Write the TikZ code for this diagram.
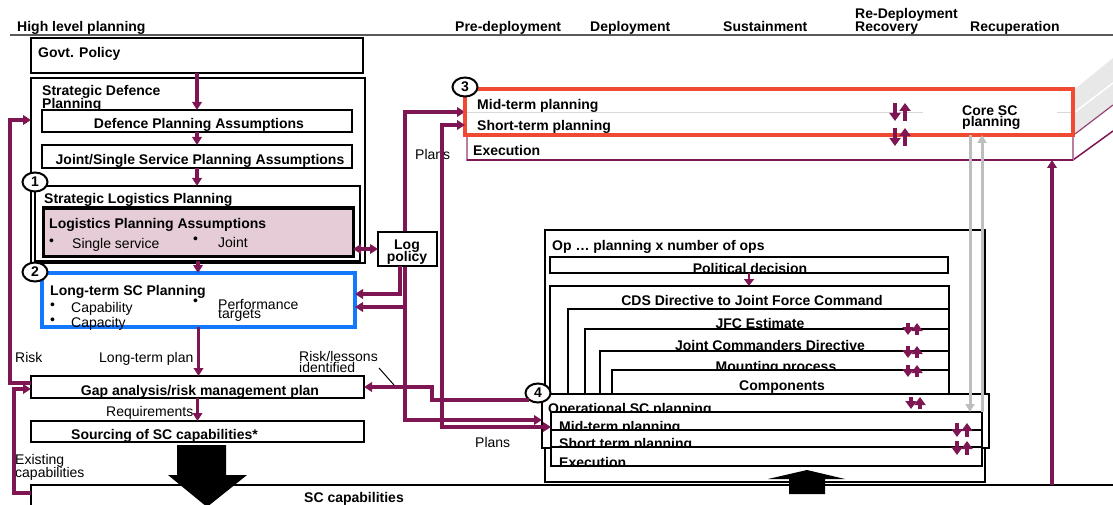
\documentclass[tikz,border=0pt]{standalone}
\usepackage{fontspec}
\setmainfont{Liberation Sans}
\usetikzlibrary{arrows.meta,fit,shapes.geometric,calc}
\pgfdeclarelayer{back}
\pgfdeclarelayer{bg}
\pgfsetlayers{back,bg,main}
\definecolor{pur}{RGB}{125,22,82}
\definecolor{lpafill}{RGB}{229,204,214}
\definecolor{bluebox}{RGB}{20,120,255}
\definecolor{redbox}{RGB}{240,75,50}
\definecolor{graybar}{RGB}{190,190,190}
\tikzset{
 bx/.style={draw=black, line width=2.4pt, fill=white, inner sep=0pt, outer sep=0pt},
 tb/.style={font=\fontsize{14}{13}\selectfont\bfseries, inner sep=0pt, anchor=base west, yshift=-2pt},
 tr/.style={font=\fontsize{14}{13}\selectfont, inner sep=0pt, anchor=base west, yshift=-2pt},
 parr/.style={draw=pur, line width=3.2pt, -{Triangle[length=8pt,width=9.5pt]}},
 parrtwo/.style={draw=pur, line width=3.2pt, {Triangle[length=8pt,width=9.5pt]}-{Triangle[length=8pt,width=9.5pt]}},
 num/.style={ellipse, draw, line width=2pt, fill=white, minimum width=25pt, minimum height=19pt, inner sep=0pt, font=\fontsize{14}{14}\selectfont\bfseries},
 garr/.style={draw=graybar, line width=3pt, -{Triangle[length=8pt,width=9pt]}},
 ud/.style={draw=pur, line width=3.5pt, -{Triangle[length=8pt,width=11pt]}},
}
\newcommand\mkbox[6][]{\coordinate (#2-a) at (#3,#4); \coordinate (#2-b) at (#5,#6); \node[bx, fit=(#2-a)(#2-b), #1] (#2) {};}
\newcommand\udpair[4]{\draw[ud] (#1,#2-#4) -- (#1,#2+#4); \draw[ud] (#1+#3,#2+#4) -- (#1+#3,#2-#4);}
\begin{document}
\begin{tikzpicture}[x=1pt,y=-1pt]
\useasboundingbox (0,0) rectangle (1113,505);
\begin{pgfonlayer}{back}
\fill[white] (0,0) rectangle (1113,505);
\end{pgfonlayer}

% header
\node[tb] (h1) at (17,30) {High level planning};
\node[tb] (h2) at (455,30) {Pre-deployment};
\node[tb] (h3) at (590,30) {Deployment};
\node[tb] (h4) at (723,30) {Sustainment};
\node[tb] (h5a) at (855,17) {Re-Deployment};
\node[tb] (h5b) at (855,30) {Recovery};
\node[tb] (h6) at (970,30) {Recuperation};
\coordinate (hl0) at (10,35); \coordinate (hl1) at (1113,35);
\draw[line width=2pt, black!65] (hl0) -- (hl1);

% left column
\mkbox{govt}{31}{38}{363}{73}
\node[tb] (govtT) at (38,56) {Govt. Policy};
\mkbox{sdp}{31}{78}{365}{263}
\node[tb] (sdpT1) at (42,94) {Strategic Defence};
\node[tb] (sdpT2) at (42,107) {Planning};
\mkbox{dpa}{42}{110}{352}{132}
\node[tb,anchor=base] (dpaT) at (199,127) {Defence Planning Assumptions};
\mkbox{jss}{42}{145}{352}{168}
\node[tb,anchor=base] (jssT) at (200,163) {Joint/Single Service Planning Assumptions};
\mkbox{slp}{35}{186}{360}{261}
\node[tb] (slpT) at (44,202) {Strategic Logistics Planning};
\mkbox[fill=lpafill, line width=3pt]{lpa}{43}{208}{353}{256}
\node[tb] (lpaT) at (49,226) {Logistics Planning Assumptions};
\node[tr] (b1) at (49,243) {•};
\node[tr] (lpa1) at (72,246) {Single service};
\node[tr] (b2) at (193,241) {•};
\node[tr] (lpa2) at (218,245) {Joint};
\node[num] (n1) at (35,182) {1};

\mkbox[draw=bluebox, line width=4pt]{lt}{42}{273}{355}{327}
\node[tb] (ltT) at (50,293) {Long-term SC Planning};
\node[tr] (b3) at (50,307) {•};
\node[tr] (lt1) at (71,310) {Capability};
\node[tr] (b4) at (50,322) {•};
\node[tr] (lt2) at (71,325) {Capacity};
\node[tr] (b5) at (193,303) {•};
\node[tr] (lt4) at (218,316) {targets};
\node[tr] (lt3) at (218,307) {Performance};
\node[num] (n2) at (35,272) {2};

\mkbox{gap}{31}{376}{364}{398}
\node[tb,anchor=base] (gapT) at (200,393) {Gap analysis/risk management plan};
\mkbox{src}{31}{421}{364}{442}
\node[tb] (srcT) at (71,437) {Sourcing of SC capabilities*};
\mkbox{scc}{31}{485}{1130}{520}
\node[tb] (sccT) at (304,500) {SC capabilities};

% labels
\node[tr] (lRisk) at (15,360) {Risk};
\node[tr] (lLtp) at (99,360) {Long-term plan};
\node[tr] (lRl1) at (299,359) {Risk/lessons};
\node[tr] (lRl2) at (299,370) {identified};
\node[tr] (lReq) at (106,414) {Requirements};
\node[tr] (lEx1) at (15,462) {Existing};
\node[tr] (lEx2) at (15,475) {capabilities};
\node[tr] (lPl1) at (415,158) {Plans};
\node[tr] (lPl2) at (475,445) {Plans};

% log policy
\mkbox{logp}{378}{232}{437}{266}
\node[tb,anchor=base] (logT1) at (407,247) {Log};
\node[tb,anchor=base] (logT2) at (407,259) {policy};

% 3D planning slab
\fill[gray!18] (1075,89) -- (1113,58) -- (1113,105) -- (1075,134) -- cycle;
\draw[white, line width=1.5pt] (1075,112) -- (1113,83);
\draw[pur!80, line width=1.2pt] (1075,134) -- (1113,105);
\draw[pur, line width=1.5pt] (1073,160) -- (1113,131);
\mkbox[draw=pur!55, line width=1.2pt]{exe}{467}{135}{1073}{160}
\draw[pur, line width=2.5pt] (exe.south west) -- (exe.south east);
\node[tb] (exeT) at (473,154) {Execution};
\mkbox[draw=none, fill=none]{rmid}{465}{89}{1073}{113}
\mkbox[draw=none, fill=none]{rshort}{465}{113}{1073}{135}
\coordinate (gs1) at (923,113); \coordinate (gs2) at (1057,113);
\draw[gray!30, line width=1pt] (rmid.south west) -- (gs1);
\draw[gray!30, line width=1pt] (gs2) -- (rmid.south east);
\mkbox[draw=redbox, line width=4pt, fill=none]{red}{465}{89}{1073}{135}
\node[tb] (rmT) at (477,108) {Mid-term planning};
\node[tb] (rsT) at (477,129) {Short-term planning};
\node[tb] (core1) at (962,114) {Core SC};
\node[tb] (core2) at (962,125) {planning};
\node[num] (n3) at (465,87) {3};

% operations area
\mkbox{op}{545}{230}{985}{482}
\node[tb] (opT) at (552,248) {Op … planning x number of ops};
\mkbox{pol}{550}{257}{948}{273}
\node[tb,anchor=base] (polT) at (750,271) {Political decision};
\mkbox{cds}{550}{286}{949}{395}
\node[tb,anchor=base] (cdsT) at (752,303) {CDS Directive to Joint Force Command};
\mkbox{jfc}{568}{309}{949}{395}
\node[tb,anchor=base] (jfcT) at (760,326) {JFC Estimate};
\mkbox{jcd}{585}{329}{949}{395}
\node[tb,anchor=base] (jcdT) at (770,348) {Joint Commanders Directive};
\mkbox{mnt}{600}{351}{949}{395}
\node[tb,anchor=base] (mntT) at (776,369) {Mounting process};
\mkbox{cmp}{612}{370}{949}{395}
\node[tb,anchor=base] (cmpT) at (782,388) {Components};
\mkbox{osc}{542}{394}{989}{448}
\node[tb] (oscT) at (548,411) {Operational SC planning};
\mkbox{omid}{551}{412}{982}{430}
\node[tb] (omidT) at (559,429) {Mid-term planning};
\mkbox{oshort}{551}{430}{982}{447}
\node[tb] (oshortT) at (559,446) {Short term planning};
\mkbox{oexe}{551}{447}{982}{466}
\node[tb] (oexeT) at (559,465) {Execution};
\node[num] (n4) at (538,393) {4};

% big black arrows
\fill (177,445) -- (226,445) -- (226,475) -- (247,475) -- (207,507) -- (168,475) -- (177,475) -- cycle;
\fill (789,494) -- (789,479) -- (768,479) -- (807,470) -- (845,479) -- (825,479) -- (825,494) -- cycle;

% purple connectors, left column
\draw[parr] (govt.south) -- (dpa.north);
\draw[parr] (dpa.south) -- (jss.north);
\draw[parr] (jss.south) -- (jss.south |- slp.north);
\draw[parr] (slp.south -| lpa.south) -- (lpa.south |- lt.north);
\draw[parr] (lt.south) -- (lt.south |- gap.north);
\draw[parr] (gap.south) -- (gap.south |- src.north);
\draw[parrtwo] (lpa.east |- logp.west) -- (logp.west);
\coordinate (lp1) at (400,294);
\draw[parr] (logp.south -| lp1) -- (lp1) -- (lp1 -| lt.east);

% plans distribution (behind log policy)
\coordinate (pv) at (405,307);
\coordinate (pt) at (405,112);
\coordinate (pb) at (405,420);
\begin{pgfonlayer}{bg}
\draw[parr] (pv) -- (pt) -- (pt -| red.west);
\end{pgfonlayer}
\draw[parr] (pv) -- (pv -| lt.east);
\draw[parr] (pv) -- (pb) -- (pb -| osc.west);
\coordinate (qt) at (442,125);
\coordinate (qb) at (442,427);
\draw[parrtwo] (qt -| red.west) -- (qt) -- (qb) -- (qb -| omid.west);

% risk / lessons
\coordinate (r1) at (529,400);
\coordinate (r2) at (432,400);
\coordinate (r3) at (432,387);
\draw[parr] (r1) -- (r2) -- (r3) -- (r3 -| gap.east);
\coordinate (ra) at (379,368);
\coordinate (rb) at (394,385);
\draw[line width=1pt] (ra) -- (rb);

% left feedback loops
\coordinate (k1) at (10,383);
\coordinate (k2) at (10,120);
\draw[parr] (gap.west |- k1) -- (k1) -- (k2) -- (k2 -| sdp.west);
\coordinate (e1) at (14,493);
\coordinate (e2) at (14,389);
\draw[parr] (scc.west |- e1) -- (e1) -- (e2) -- (e2 -| gap.west);

% SC capabilities to execution
\coordinate (s1x) at (1052,0);
\draw[parr] (scc.north -| s1x) -- (exe.south -| s1x);

% political decision to CDS
\draw[draw=pur, line width=2.5pt, -{Triangle[length=7pt,width=10pt]}] (pol.south) -- (pol.south |- cds.north);

% grey links
\coordinate (g1) at (970,0);
\coordinate (g2) at (982,0);
\draw[garr] (red.south -| g1) -- (omid.north -| g1);
\draw[garr] (omid.north -| g2) -- (red.south -| g2);

% small up/down pairs
\udpair{895}{112}{10}{9}
\udpair{895}{137}{10}{9}
\udpair{908}{329}{9}{6}
\udpair{908}{352}{9}{6}
\udpair{908}{371}{9}{6}
\udpair{911}{403}{9}{6}
\udpair{957}{430}{10}{7}
\udpair{957}{448}{10}{7}
\end{tikzpicture}
\end{document}
